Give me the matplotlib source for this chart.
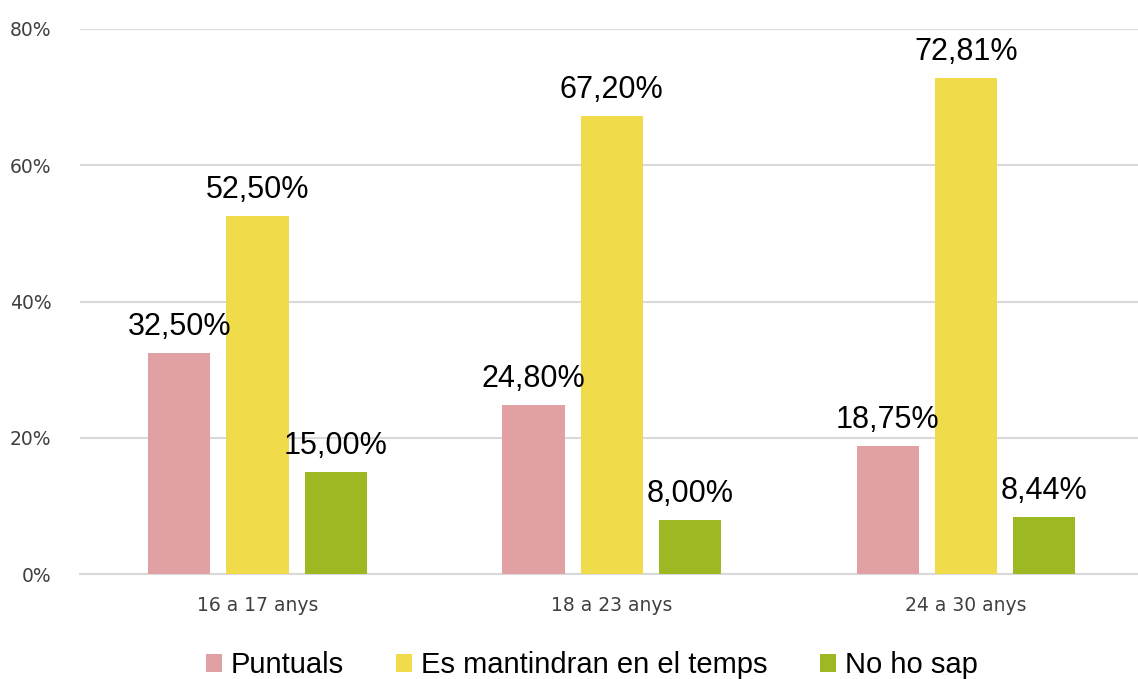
import matplotlib.pyplot as plt
import numpy as np

# Data
groups = ["16 a 17 anys", "18 a 23 anys", "24 a 30 anys"]
series = ["Puntuals", "Es mantindran en el temps", "No ho sap"]
puntuals = [32.50, 24.80, 18.75]
mantindran = [52.50, 67.20, 72.81]
no_ho_sap = [15.00, 8.00, 8.44]
colors = ["#E0A0A4", "#F0DC4A", "#9CB822"]

plt.rcParams["font.family"] = ["Liberation Sans", "DejaVu Sans"]

fig = plt.figure(figsize=(11.38, 6.79), dpi=100)
ax = fig.add_axes([80.4 / 1138, 1 - 574 / 679, 1062.75 / 1138, 545 / 679])

x = np.arange(len(groups))
width = 0.176
step = 0.221

for i, (vals, name, col) in enumerate(zip([puntuals, mantindran, no_ho_sap], series, colors)):
    bars = ax.bar(x + (i - 1) * step, vals, width, color=col, label=name, zorder=3)
    for b, v in zip(bars, vals):
        ax.text(b.get_x() + b.get_width() / 2, v + 1.6,
                f"{v:.2f}%".replace(".", ","),
                ha="center", va="bottom", fontsize=22, color="black", zorder=4)

ax.set_xlim(-0.5, 2.5)
ax.set_ylim(0, 80)
ax.set_yticks([0, 20, 40, 60, 80])
ax.set_yticklabels([f"{t}%" for t in [0, 20, 40, 60, 80]],
                   fontsize=13.5, color="#404040", family=["DejaVu Sans"])
ax.set_xticks(x)
ax.set_xticklabels(groups, fontsize=13.5, color="#404040", family=["DejaVu Sans"])
ax.tick_params(axis="both", length=0)
ax.tick_params(axis="y", pad=21)
ax.tick_params(axis="x", pad=16)

ax.grid(axis="y", color="#D9D9D9", linewidth=1.5, zorder=0)
for s in ["top", "right", "left"]:
    ax.spines[s].set_visible(False)
ax.spines["bottom"].set_color("#D9D9D9")
ax.spines["bottom"].set_linewidth(1.5)

ax.legend(loc="upper center", bbox_to_anchor=(0.481, -0.11), ncol=3,
          frameon=False, fontsize=21, handlelength=0.55, handleheight=0.55,
          handletextpad=0.3, columnspacing=1.8, borderpad=0.1)

fig.savefig("out.png", dpi=100)
